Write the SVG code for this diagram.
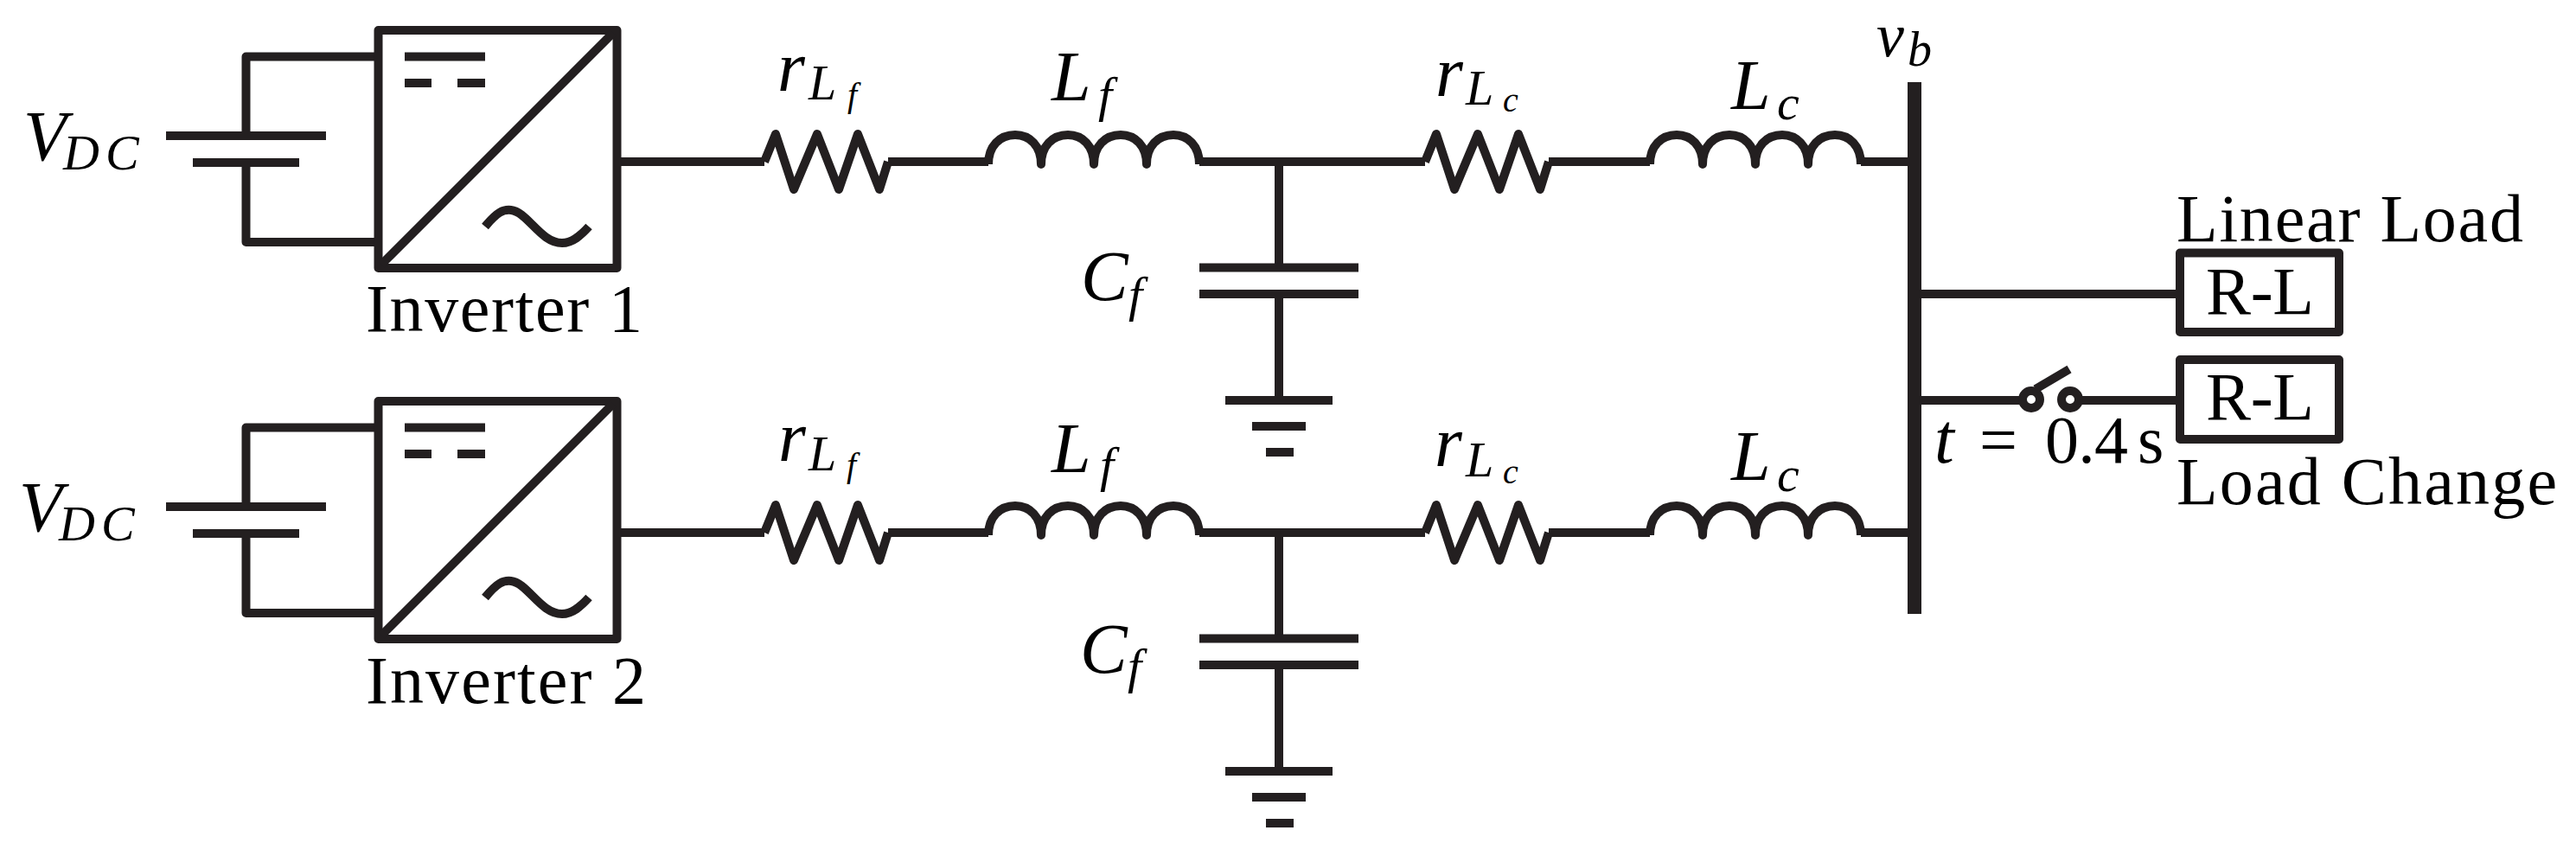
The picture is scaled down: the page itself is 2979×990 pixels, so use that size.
<svg xmlns="http://www.w3.org/2000/svg" width="2979" height="990" viewBox="0 0 2979 990">
<style>
.w{fill:none;stroke:#231f20;stroke-width:10;stroke-linejoin:round;stroke-linecap:butt}
.t{font-family:"Liberation Serif","Times New Roman",serif;font-size:78px;fill:#000}
.m{font-style:italic;font-size:82px}
.s{font-size:58px}
.ss{font-size:40px}
</style>
<defs>
<path id="res" class="w" d="M0 0L13 -32L34 32L61 -32L86 32L108 -32L133 32L143 0"/>
<path id="ind" class="w" d="M0 3C0 -18 13 -31 31 -31C48 -31 61 -18 61 3C61 -18 74 -31 92 -31C109 -31 122 -18 122 3C122 -18 135 -31 153 -31C170 -31 183 -18 183 3C183 -18 196 -31 214 -31C231 -31 244 -18 244 3"/>
<g id="conv">
<rect class="w" x="437.5" y="35" width="276" height="275"/>
<path class="w" d="M709 38L441 306"/>
<path class="w" d="M468 65.5H561M468 96H499M529 96H561"/>
<path class="w" d="M561 262C575 245 582 242 591 243C610 245 625 281 650 281C662 281 672 272 681 262"/>
</g>
<g id="batt">
<path class="w" d="M192 157H377M223 188H346"/>
</g>
<g id="cap">
<path class="w" d="M1387 309.5H1571M1387 340H1571"/>
</g>
<g id="gnd">
<path class="w" d="M1417 463H1541M1448 493H1510M1464 523H1496"/>
</g>
</defs>
<rect width="2979" height="990" fill="#fff"/>
<g id="connectors">
<path class="w" d="M433 65.5H284.5V157M284.5 188V280H433"/>
<path class="w" d="M718 187H884M1027 187H1143M1387 187H1648M1479 187V309.5M1479 340V463M1791 187H1908M2152 187H2214"/>
<path class="w" d="M433 494.5H284.5V586M284.5 617V709H433"/>
<path class="w" d="M718 616H884M1027 616H1143M1387 616H1648M1479 616V738.5M1479 769V892M1791 616H1908M2152 616H2214"/>
<path class="w" d="M2214 340H2521M2214 463H2340M2403 463H2521"/>
</g>
<g id="battery-1"><use href="#batt"/></g>
<g id="inverter-1"><use href="#conv"/></g>
<g id="r-lf-1"><use href="#res" x="884" y="187"/></g>
<g id="l-f-1"><use href="#ind" x="1143" y="187"/></g>
<g id="c-f-1"><use href="#cap"/></g>
<g id="ground-1"><use href="#gnd"/></g>
<g id="r-lc-1"><use href="#res" x="1648" y="187"/></g>
<g id="l-c-1"><use href="#ind" x="1908" y="187"/></g>
<g id="battery-2"><use href="#batt" y="429"/></g>
<g id="inverter-2"><use href="#conv" y="429"/></g>
<g id="r-lf-2"><use href="#res" x="884" y="616"/></g>
<g id="l-f-2"><use href="#ind" x="1143" y="616"/></g>
<g id="c-f-2"><use href="#cap" y="429"/></g>
<g id="ground-2"><use href="#gnd" y="429"/></g>
<g id="r-lc-2"><use href="#res" x="1648" y="616"/></g>
<g id="l-c-2"><use href="#ind" x="1908" y="616"/></g>
<g id="bus"><path class="w" style="stroke-width:16" d="M2214 95V710"/></g>
<g id="load-1"><rect class="w" x="2521" y="292.5" width="184" height="91.5"/>
<text class="t" x="2551" y="363" textLength="125" lengthAdjust="spacing">R-L</text></g>
<g id="load-2"><rect class="w" x="2521" y="416" width="184" height="92"/>
<text class="t" x="2551" y="485" textLength="125" lengthAdjust="spacing">R-L</text></g>
<g id="switch">
<circle class="w" cx="2349" cy="462" r="10"/>
<circle class="w" cx="2394" cy="462" r="10"/>
<path class="w" d="M2354 450L2393 427"/>
</g>
<g id="labels">
<text class="t m" x="27" y="185">V<tspan class="s" x="73" y="196">D</tspan><tspan class="s" x="122">C</tspan></text>
<text class="t m" x="22" y="614">V<tspan class="s" x="68" y="625">D</tspan><tspan class="s" x="117">C</tspan></text>
<text class="t" x="423" y="383" textLength="320" lengthAdjust="spacing">Inverter 1</text>
<text class="t" x="423" y="813" textLength="324" lengthAdjust="spacing">Inverter 2</text>
<text class="t m" x="899" y="105">r<tspan class="s" x="935" y="115">L</tspan><tspan class="ss" x="980" y="123">f</tspan></text>
<text class="t m" x="1216" y="116">L<tspan class="s" x="1270" y="129">f</tspan></text>
<text class="t m" x="1250" y="347">C<tspan class="s" x="1305" y="360">f</tspan></text>
<text class="t m" x="1660" y="111">r<tspan class="s" x="1695" y="121">L</tspan><tspan class="ss" x="1738" y="129">c</tspan></text>
<text class="t m" x="2002" y="126">L<tspan class="s" x="2055" y="138">c</tspan></text>
<text class="t m" x="900" y="533">r<tspan class="s" x="935" y="544">L</tspan><tspan class="ss" x="979" y="551">f</tspan></text>
<text class="t m" x="1216" y="546">L<tspan class="s" x="1272" y="557">f</tspan></text>
<text class="t m" x="1249" y="778">C<tspan class="s" x="1304" y="790">f</tspan></text>
<text class="t m" x="1659" y="539">r<tspan class="s" x="1695" y="551">L</tspan><tspan class="ss" x="1738" y="559">c</tspan></text>
<text class="t m" x="2002" y="555">L<tspan class="s" x="2055" y="568">c</tspan></text>
<text class="t m" style="font-size:72px" x="2170" y="65">v<tspan style="font-size:56px" x="2206" y="76">b</tspan></text>
<text class="t" x="2517" y="279" textLength="401" lengthAdjust="spacing">Linear Load</text>
<text class="t" x="2517" y="583" textLength="440" lengthAdjust="spacing">Load Change</text>
<text class="t" y="535"><tspan class="m" x="2237">t</tspan><tspan x="2289">=</tspan><tspan x="2365" textLength="96">0.4</tspan><tspan x="2472">s</tspan></text>
</g>
</svg>
